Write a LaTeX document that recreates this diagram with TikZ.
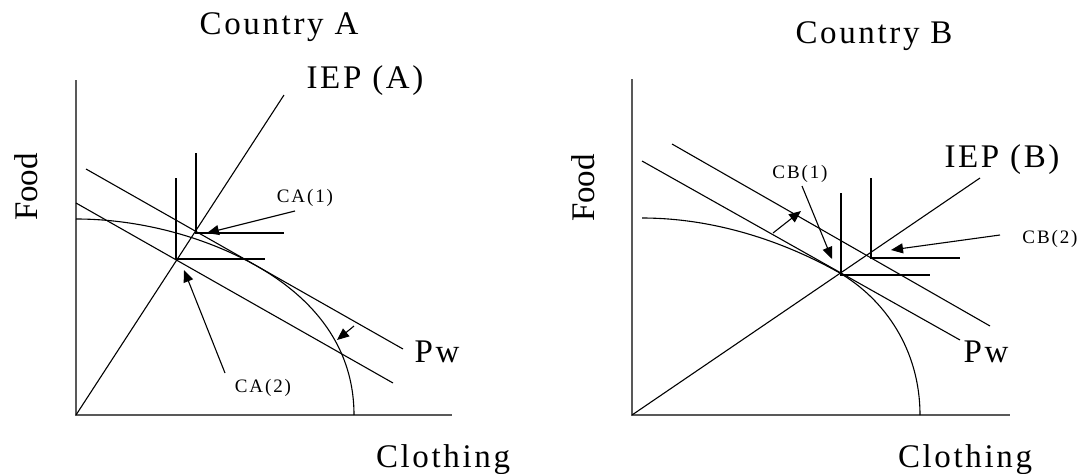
\documentclass[tikz,border=0pt]{standalone}
\usepackage{fontspec}
\setmainfont{Liberation Serif}
\newfontfamily\trackfont{Liberation Serif}[LetterSpace=8]
\newfontfamily\smalltrack{Liberation Serif}[LetterSpace=10]
\usetikzlibrary{arrows.meta}
\definecolor{axiscol}{HTML}{595959}

\tikzset{
  biglab/.style={font=\trackfont\fontsize{33}{40}\selectfont, inner sep=0pt, anchor=base},
  smalllab/.style={font=\smalltrack\fontsize{19}{23}\selectfont, inner sep=0pt, anchor=base},
  foodlab/.style={font=\fontsize{33}{40}\selectfont, inner sep=0pt, rotate=90},
  curve/.style={black, line width=1.1pt},
  axis/.style={axiscol, line width=2pt},
  pointer/.style={black, line width=1.1pt, -{Triangle[length=12pt,width=10pt]}},
}

\begin{document}
\begin{tikzpicture}[x=1pt, y=-1pt]
\useasboundingbox (0,0) rectangle (1085,474);

% ---------- axes macro ----------
\newcommand{\drawaxes}[4]{%
  % #1 = name, #2 = x of y-axis, #3 = top, #4 = right end
  \coordinate (#1) at (#2,415);
  \draw[axis] (#2,#3) -- (#1) -- (#4,415);
}

% ---------- indifference corner macro ----------
\newcommand{\icorner}[5]{%
  % #1 = name, #2 = x, #3 = y, #4 = top, #5 = right end
  \coordinate (#1) at (#2,#3);
  \draw[curve] (#2,#4) -- (#1) -- (#5,#3);
}

% ==================================================
% Country A
% ==================================================
\node[biglab] (titleA) at (279,34) {Country A};
\node[foodlab] (foodA) at (26,187) {Food};
\node[biglab] (clothA) at (443,467) {Clothing};
\drawaxes{oA}{76}{80}{452}

% IEP ray
\coordinate (iepAend) at (284,95);
\draw[curve] (oA) -- (iepAend);
\node[biglab] (iepA) at (365,88) {IEP (A)};

% production frontier
\draw[curve] (76,219) .. controls (140,219) and (205,237) .. (255,265)
  .. controls (305,293) and (354,340) .. (354,415);

% price lines
\draw[curve] (86,169) -- (403,349);
\draw[curve] (76,203) -- (393,383);
\node[biglab] (pwA) at (437,362) {Pw};

% consumption points
\icorner{caup}{196}{233}{153}{284}
\icorner{calow}{176}{259}{178}{265}

% labels and pointers
\node[smalllab] (caone) at (305,202) {CA(1)};
\node[smalllab] (catwo) at (263,392) {CA(2)};
\coordinate (caone-from) at (295,211);
\coordinate (caone-to) at (207,233);
\coordinate (catwo-from) at (225,373);
\coordinate (catwo-to) at (184,270);
\coordinate (shiftA-from) at (354,326);
\coordinate (shiftA-to) at (337,340);
\draw[pointer] (caone-from) -- (caone-to);
\draw[pointer] (catwo-from) -- (catwo-to);
\draw[pointer] (shiftA-from) -- (shiftA-to);

% ==================================================
% Country B
% ==================================================
\node[biglab] (titleB) at (874,43) {Country B};
\node[foodlab] (foodB) at (583,188) {Food};
\node[biglab] (clothB) at (965,467) {Clothing};
\drawaxes{oB}{632}{79}{1010}

% IEP ray
\coordinate (iepBend) at (980,178);
\draw[curve] (oB) -- (iepBend);
\node[biglab] (iepB) at (1002,167) {IEP (B)};

% production frontier
\draw[curve] (642,218) .. controls (720,218) and (790,245) .. (838,272)
  .. controls (885,299) and (920,350) .. (920,415);

% price lines
\draw[curve] (642,161) -- (960,340);
\draw[curve] (672,144) -- (990,326);
\node[biglab] (pwB) at (986,362) {Pw};

% consumption points
\icorner{cblow}{841}{275}{193}{930}
\icorner{cbup}{871}{258}{178}{960}

% labels and pointers
\node[smalllab] (cbone) at (800,178) {CB(1)};
\node[smalllab] (cbtwo) at (1050,243) {CB(2)};
\coordinate (cbone-from) at (802,186);
\coordinate (cbone-to) at (832,259);
\coordinate (cbtwo-from) at (1000,235);
\coordinate (cbtwo-to) at (891,250);
\coordinate (shiftB-from) at (773,233);
\coordinate (shiftB-to) at (801,211);
\draw[pointer] (cbone-from) -- (cbone-to);
\draw[pointer] (cbtwo-from) -- (cbtwo-to);
\draw[pointer] (shiftB-from) -- (shiftB-to);

\end{tikzpicture}
\end{document}
